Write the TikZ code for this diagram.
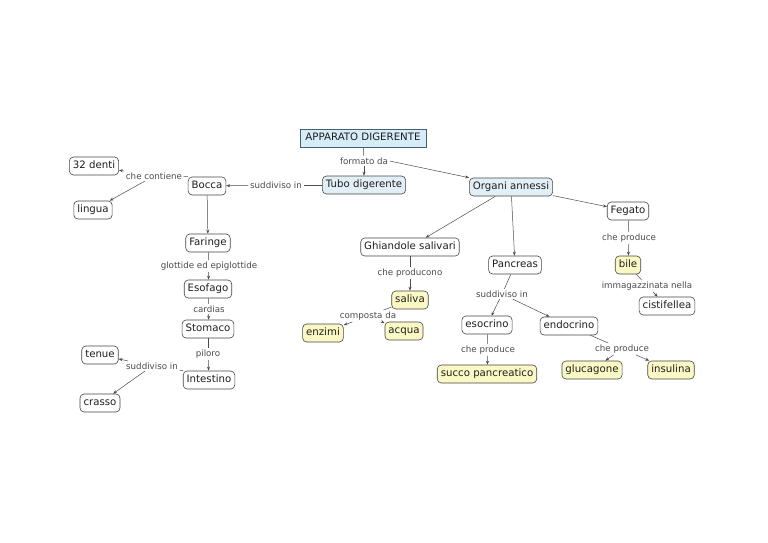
\documentclass[tikz,border=0pt]{standalone}
\usepackage{fontspec}
\setmainfont{DejaVu Sans}
\usetikzlibrary{arrows.meta}
\definecolor{blu}{RGB}{214,236,248}
\definecolor{blu2}{RGB}{226,239,246}
\definecolor{gia}{RGB}{250,248,196}
\definecolor{bord}{RGB}{70,70,70}
\definecolor{bordb}{RGB}{70,95,115}
\definecolor{lnk}{RGB}{75,75,75}
\definecolor{ctext}{RGB}{30,30,30}
\tikzset{
 concept/.style={draw=bord, rounded corners=4pt, fill=white, font=\fontsize{10.2}{12}\selectfont, text=ctext,
   inner xsep=3.5pt, inner ysep=2pt, text height=7.6pt, text depth=2.2pt, minimum height=18pt, line width=0.6pt},
 bluec/.style={concept, fill=blu2},
 yelc/.style={concept, fill=gia},
 link/.style={font=\fontsize{8.7}{10}\selectfont, text=lnk, inner sep=1.5pt},
 ln/.style={draw=lnk, line width=0.5pt},
 arr/.style={ln, -{Stealth[length=4pt,width=3pt]}},
}
\begin{document}
\begin{tikzpicture}[x=1pt,y=-1pt]
\useasboundingbox[fill=white] (0,0) rectangle (768,542);
% concepts
\node[concept, rounded corners=0pt, fill=blu, draw=bordb, minimum width=126pt, inner xsep=2.5pt] (app) at (363,138) {APPARATO DIGERENTE};
\node[bluec] (tubo) at (364,185) {Tubo digerente};
\node[bluec] (org) at (511,187) {Organi annessi};
\node[concept] (bocca) at (207,186) {Bocca};
\node[concept] (denti) at (94,166) {32 denti};
\node[concept] (lingua) at (93,210) {lingua};
\node[concept] (faringe) at (208,243) {Faringe};
\node[concept] (esofago) at (208,289) {Esofago};
\node[concept] (stomaco) at (208,329) {Stomaco};
\node[concept] (intest) at (209,380) {Intestino};
\node[concept] (tenue) at (100,355) {tenue};
\node[concept] (crasso) at (100,403) {crasso};
\node[concept] (ghiand) at (410,247) {Ghiandole salivari};
\node[yelc] (saliva) at (410,300) {saliva};
\node[yelc] (enzimi) at (323,333) {enzimi};
\node[yelc] (acqua) at (404,331) {acqua};
\node[concept] (pancreas) at (515,265) {Pancreas};
\node[concept] (esocrino) at (487,325) {esocrino};
\node[concept] (endocrino) at (569,326) {endocrino};
\node[yelc] (succo) at (487,374) {succo pancreatico};
\node[yelc] (glucagone) at (592,370) {glucagone};
\node[yelc] (insulina) at (671,370) {insulina};
\node[concept] (fegato) at (628,211) {Fegato};
\node[yelc] (bile) at (628,265) {bile};
\node[concept] (cisti) at (667,306) {cistifellea};
% linking phrases
\node[link] (l1) at (364,161) {formato da};
\node[link] (l2) at (276,185) {suddiviso in};
\node[link] (l3) at (154,176) {che contiene};
\node[link] (l4) at (209,266) {glottide ed epiglottide};
\node[link] (l5) at (209,309) {cardias};
\node[link] (l6) at (208,354) {piloro};
\node[link] (l7) at (152,366) {suddiviso in};
\node[link] (l8) at (410,273) {che producono};
\node[link] (l9) at (368,316) {composta da};
\node[link] (l10) at (502,294) {suddiviso in};
\node[link] (l11) at (488,350) {che produce};
\node[link] (l12) at (622,349) {che produce};
\node[link] (l13) at (629,238) {che produce};
\node[link] (l14) at (647,286) {immagazzinata nella};
% connectors
\draw[ln] (app) -- (l1);
\draw[arr] (l1) -- (tubo);
\draw[arr] (l1.east) -- (org.north west);
\draw[ln] (tubo) -- (l2);
\draw[arr] (l2) -- (bocca);
\draw[arr] (bocca) -- (faringe);
\draw[ln] (bocca.north west) -- (l3);
\draw[arr] (l3) -- (denti);
\draw[arr] (l3) -- (lingua);
\draw[ln] (faringe) -- (l4);
\draw[arr] (l4) -- (esofago);
\draw[ln] (esofago) -- (l5);
\draw[arr] (l5) -- (stomaco);
\draw[ln] (stomaco) -- (l6);
\draw[arr] (l6) -- (intest);
\draw[ln] (intest.north west) -- (l7);
\draw[arr] (l7) -- (tenue);
\draw[arr] (l7) -- (crasso);
\draw[arr] (org) -- (ghiand);
\draw[arr] (org) -- (pancreas);
\draw[arr] (org) -- (fegato);
\draw[ln] (ghiand) -- (l8);
\draw[arr] (l8) -- (saliva);
\draw[ln] (saliva) -- (l9);
\draw[arr] (l9) -- (enzimi);
\draw[arr] (l9) -- (acqua);
\draw[ln] (pancreas) -- (l10);
\draw[arr] (l10) -- (esocrino);
\draw[arr] (l10) -- (endocrino);
\draw[ln] (esocrino) -- (l11);
\draw[arr] (l11) -- (succo);
\draw[ln] (endocrino) -- (l12);
\draw[arr] (l12) -- (glucagone);
\draw[arr] (l12) -- (insulina);
\draw[ln] (fegato) -- (l13);
\draw[arr] (l13) -- (bile);
\draw[ln] (bile) -- (l14);
\draw[arr] (l14) -- (cisti);
\end{tikzpicture}
\end{document}
